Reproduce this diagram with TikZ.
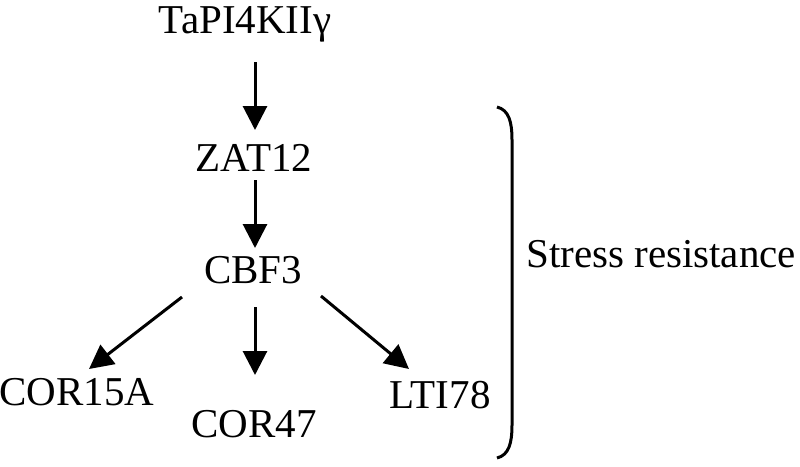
\documentclass[tikz,border=0pt]{standalone}
\usepackage{fontspec}
\setmainfont{Liberation Serif}
\usetikzlibrary{arrows.meta}
\begin{document}
\begin{tikzpicture}[x=1pt,y=-1pt,
  lbl/.style={anchor=base,inner sep=0pt,font=\fontsize{41}{48}\selectfont},
  arr/.style={line width=3pt,-{Triangle[length=24pt,width=24pt]}},
  brk/.style={line width=3pt}]
\useasboundingbox (0,0) rectangle (800,466);
\node[lbl] (tapi) at (245,33) {TaPI4KIIγ};
\node[lbl] (zat) at (254,171) {ZAT12};
\node[lbl] (cbf) at (253,283) {CBF3};
\node[lbl] (cor15) at (77,405) {COR15A};
\node[lbl] (cor47) at (254,437) {COR47};
\node[lbl] (lti) at (440,408) {LTI78};
\node[lbl,anchor=base west] (stress) at (526,267) {Stress resistance};
\coordinate (a1s) at (255,62);  \coordinate (a1e) at (255,130);
\coordinate (a2s) at (255,180); \coordinate (a2e) at (255,248);
\coordinate (a3s) at (182,297); \coordinate (a3e) at (89,369);
\coordinate (a4s) at (255,307); \coordinate (a4e) at (255,375);
\coordinate (a5s) at (321,296); \coordinate (a5e) at (409,369);
\draw[arr] (a1s) -- (a1e);
\draw[arr] (a2s) -- (a2e);
\draw[arr] (a3s) -- (a3e);
\draw[arr] (a4s) -- (a4e);
\draw[arr] (a5s) -- (a5e);
\coordinate (bt) at (497,107);
\coordinate (bb) at (497,458);
\draw[brk] (bt) .. controls (509,110) and (512,122) .. (512,140) -- (512,425) .. controls (512,443) and (509,455) .. (bb);
\end{tikzpicture}
\end{document}
